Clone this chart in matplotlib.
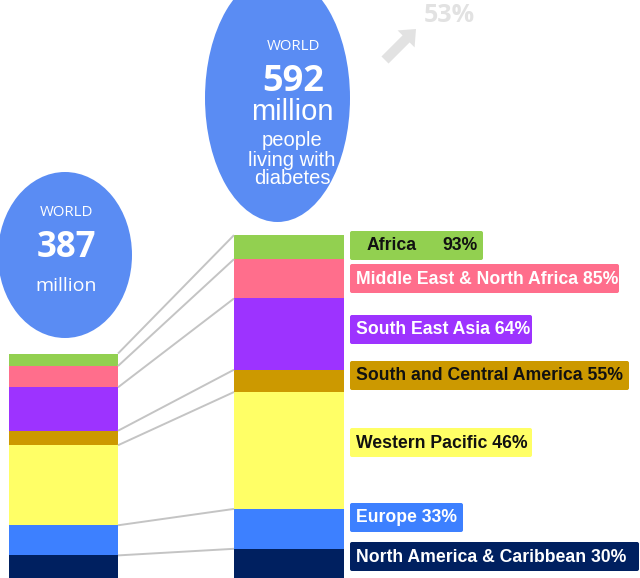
import matplotlib
matplotlib.use("Agg")
import matplotlib.pyplot as plt
import numpy as np
from matplotlib.patches import Ellipse, FancyBboxPatch, FancyArrow

# people with diabetes by IDF region, millions (bottom to top of the stack)
regions = ["North America & Caribbean", "Europe", "Western Pacific",
           "South and Central America", "South East Asia",
           "Middle East & North Africa", "Africa"]
m2014 = [39.0, 52.0, 138.2, 25.0, 75.0, 36.8, 21.5]
m2035 = [50.4, 68.9, 201.8, 38.5, 123.0, 67.9, 41.5]
growth = ["30%", "33%", "46%", "55%", "64%", "85%", "93%"]
world_growth = "53%"

colors = ["#002060", "#3d80ff", "#ffff66", "#cc9900",
          "#9d33ff", "#ff6e8c", "#92d050"]
text_colors = ["white", "white", "#111111", "#111111",
               "white", "white", "#111111"]

# label boxes: (top, bottom, right) in pixels
boxes = [(542, 571, 639), (503, 532, 463), (428, 457, 532),
         (361, 390, 629), (315, 344, 532), (264, 293, 619), (231, 260, 483)]

W, H = 640, 578
px_per_m = 0.5792

fig = plt.figure(figsize=(6.4, 5.78), dpi=100)

# bars in data units (millions)
ax = fig.add_axes([0, 0, 1, 1])
ax.set_xlim(0, W)
ax.set_ylim(0, H / px_per_m)
ax.axis("off")

x_left, x_right = 63.5, 289
bw_left, bw_right = 109, 110
bot_l = np.concatenate([[0], np.cumsum(m2014)[:-1]])
bot_r = np.concatenate([[0], np.cumsum(m2035)[:-1]])
ax.bar(x_left, m2014, bottom=bot_l, width=bw_left, color=colors, linewidth=0)
ax.bar(x_right, m2035, bottom=bot_r, width=bw_right, color=colors, linewidth=0)

# grey lines joining segment tops
top_l = np.cumsum(m2014)
top_r = np.cumsum(m2035)
for a, b in zip(top_l, top_r):
    ax.plot([x_left + bw_left / 2, x_right - bw_right / 2], [a, b],
            color="#c4c4c4", lw=1.4, solid_capstyle="butt")

# overlay in pixel coordinates for the decorations
ov = fig.add_axes([0, 0, 1, 1])
ov.set_xlim(0, W)
ov.set_ylim(H, 0)
ov.axis("off")
ov.patch.set_visible(False)

blue = "#5a8cf3"
ov.add_patch(Ellipse((65, 255), 134, 166, color=blue, lw=0))
ov.add_patch(Ellipse((277.5, 98), 145, 248, color=blue, lw=0))

circ_font = ["Open Sans", "DejaVu Sans"]
arial = ["Liberation Sans", "DejaVu Sans"]

ov.text(66, 213, "WORLD", color="white", fontsize=10.8, family=circ_font,
        ha="center", va="center")
ov.text(66, 248, "387", color="white", fontsize=25, family=circ_font,
        weight="bold", ha="center", va="center")
ov.text(66, 286, "million", color="white", fontsize=14, family=circ_font,
        ha="center", va="center")

ov.text(293, 47, "WORLD", color="white", fontsize=10.8, family=circ_font,
        ha="center", va="center")
ov.text(293, 82, "592", color="white", fontsize=26, family=circ_font,
        weight="bold", ha="center", va="center")
ov.text(292, 112, "million", color="white", fontsize=21, family=arial,
        ha="center", va="center")
ov.text(292, 160, "people\nliving with\ndiabetes", color="white", fontsize=14.5,
        family=arial, ha="center", va="center", linespacing=1.0)

# growth arrow
ov.add_patch(FancyArrow(385, 60, 31, -31, width=10, head_width=24,
                        head_length=14, length_includes_head=True,
                        color="#e2e2e2", lw=0))
ov.text(449, 15, world_growth, color="#e2e2e2", fontsize=18, family=circ_font,
        weight="bold", ha="center", va="center")

# region labels
for i, (name, g) in enumerate(zip(regions, growth)):
    top, bot, right = boxes[i]
    ov.add_patch(FancyBboxPatch((350, top), right - 350, bot - top,
                                boxstyle="round,pad=0,rounding_size=2",
                                color=colors[i], lw=0))
    yc = (top + bot) / 2 + 0.5
    if name == "Africa":
        ov.text(367, yc, name, color=text_colors[i], fontsize=12.7,
                family=arial, weight="bold", ha="left", va="center")
        ov.text(478, yc, g, color=text_colors[i], fontsize=12.7,
                family=arial, weight="bold", ha="right", va="center")
    else:
        ov.text(356, yc, name + " " + g, color=text_colors[i], fontsize=12.7,
                family=arial, weight="bold", ha="left", va="center")

fig.savefig("out.png", dpi=100)
